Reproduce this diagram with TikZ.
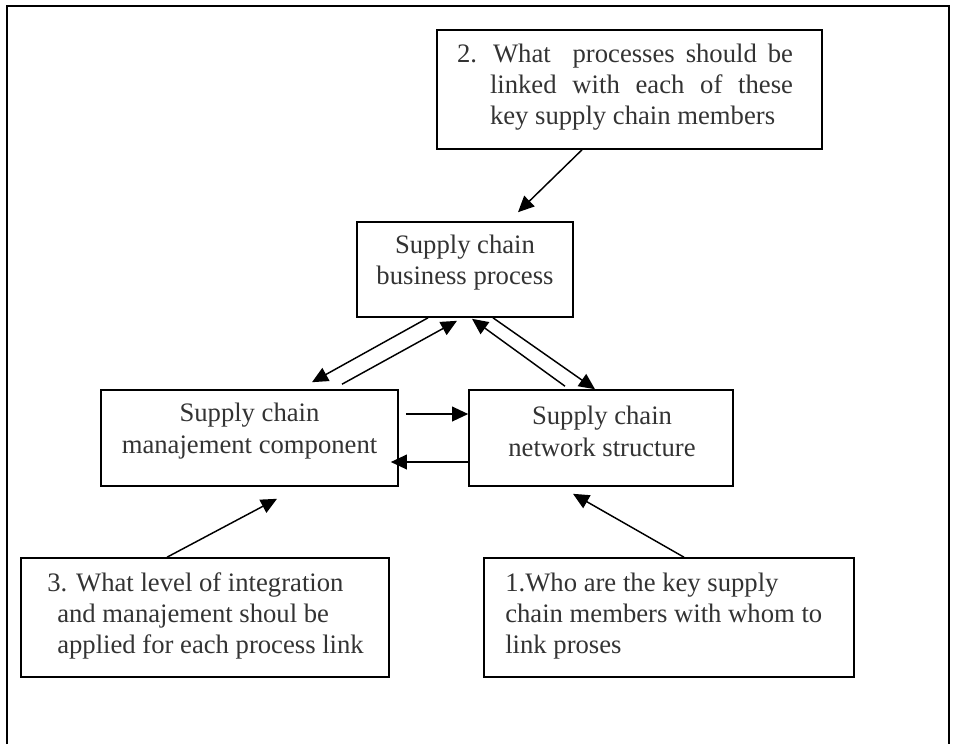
\documentclass[tikz,border=0pt]{standalone}
\usepackage{fontspec}
\setmainfont{Liberation Serif}
\usepackage{tikz}
\usetikzlibrary{calc,arrows.meta,positioning}
\tikzset{
    block/.style={
    rectangle,draw=black,line width=1.2pt,inner sep=0pt
    },
    blocktext/.style={
    inner sep=0pt,text=black!80,font=\fontsize{20pt}{23.5pt}\selectfont
    },
    arr/.style={
    line width=1.1pt,-{Triangle[length=12pt,width=11pt]}
    },
}

\begin{document}
\begin{tikzpicture}[x=0.75pt, y=-0.75pt]
  \useasboundingbox (0,0) rectangle (953,744);
  % outer frame (bottom edge is off the page)
  \draw[line width=1.4pt] (7,744) |- (949,6) -- (949,744);

  % boxes
  \node[block, minimum width=288.75pt, minimum height=89.25pt] (q2) at (629.5,89.5) {};
  \node[block, minimum width=162pt, minimum height=71.25pt] (bp) at (465,269.5) {};
  \node[block, minimum width=222.75pt, minimum height=72pt] (mg) at (249.5,438) {};
  \node[block, minimum width=198pt, minimum height=72pt] (nw) at (601,438) {};
  \node[block, minimum width=276pt, minimum height=89.25pt] (q3) at (205,617.5) {};
  \node[block, minimum width=277.5pt, minimum height=89.25pt] (q1) at (669,617.5) {};

  % texts
  \node[blocktext, text width=227.25pt, align=justify] (q2-text) at (641.5,87)
    {\noindent\hspace*{-24.75pt}2.\hspace{12pt}What\ \ processes should be\linebreak
     linked with each of these\linebreak key supply chain members};
  \node[blocktext, align=center] (bp-text) at (465,262.5) {Supply chain\\business process};
  \node[blocktext, align=center] (mg-text) at (249.5,431) {Supply chain\\manajement component};
  \node[blocktext, align=center] (nw-text) at (602,431.5) {Supply chain\\network structure};
  \node[blocktext, align=left, anchor=west] (q3-text) at (47,616)
    {3. What level of integration\\\hspace*{7.5pt}and manajement shoul be\\\hspace*{7.5pt}applied for each process link};
  \node[blocktext, align=left, anchor=west] (q1-text) at (505,616)
    {1.Who are the key supply\\chain members with whom to\\link proses};

  % arrows
  \path[arr]
    ($(q2.south)+(-47.5,0)$) edge ($(bp.north)+(53,-9)$)
    ($(bp.south)+(-37,0)$) edge ($(mg.north)+(62.5,-7)$)
    ($(mg.north)+(92.5,-5)$) edge ($(bp.south)+(-8,3)$)
    ($(nw.north)+(-36,-3)$) edge ($(bp.south)+(7,1)$)
    ($(bp.south)+(28,0)$) edge ($(nw.north)+(-6,0)$)
    ($(mg.east)+(7,-24)$) edge ($(nw.west)+(0,-24)$)
    ($(nw.west)+(0,24)$) edge ($(mg.east)+(-8,24)$)
    ($(q3.north)+(-38,0)$) edge ($(mg.south)+(27.5,12)$)
    ($(q1.north)+(15,0)$) edge ($(nw.south)+(-28,7)$);
\end{tikzpicture}
\end{document}
